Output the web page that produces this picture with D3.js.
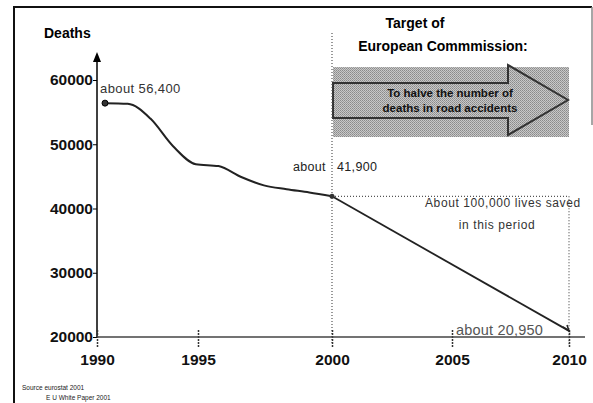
<!DOCTYPE html>
<html>
<head>
<meta charset="utf-8">
<script src="https://cdn.jsdelivr.net/npm/d3@7"></script>
<style>
  body { margin: 0; background: #fff; }
  #chart { width: 593px; height: 403px; }
  text { font-family: Arial, "Liberation Sans", sans-serif; }
</style>
</head>
<body>
<div id="chart"></div>
<script>
// values
const years = [1990, 1991, 1992, 1993, 1994, 1995, 1996, 1997, 1998, 1999, 2000];
const deaths = [56400, 56300, 54000, 49700, 46900, 46600, 44900, 43600, 43000, 42500, 41900];
const targetYears = [2000, 2010];
const targetDeaths = [41900, 20950];
const yTicks = [20000, 30000, 40000, 50000, 60000];
const xTicks = [1990, 1995, 2000, 2005, 2010];

const width = 593;
const height = 403;

const svg = d3.select("#chart").append("svg")
  .attr("width", width)
  .attr("height", height);

const defs = svg.append("defs");

// dithered grey like the scanned original
const pat = defs.append("pattern")
  .attr("id", "stipple")
  .attr("width", 2)
  .attr("height", 2)
  .attr("patternUnits", "userSpaceOnUse");
pat.append("rect").attr("width", 2).attr("height", 2).attr("fill", "#c8c8c8");
pat.append("rect").attr("x", 0).attr("y", 0).attr("width", 1).attr("height", 1).attr("fill", "#8a8a8a");
pat.append("rect").attr("x", 1).attr("y", 1).attr("width", 1).attr("height", 1).attr("fill", "#9a9a9a");

// frame
svg.append("path")
  .attr("d", "M14,403 L14,7 L592,7")
  .attr("fill", "none")
  .attr("stroke", "#111")
  .attr("stroke-width", 2);
svg.append("line")
  .attr("x1", 592).attr("x2", 592).attr("y1", 7).attr("y2", 125)
  .attr("stroke", "#888").attr("stroke-width", 1.5);

// scales
const y = d3.scaleLinear().domain([20000, 60000]).range([337, 80]);
const xTick = d3.scaleLinear().domain(xTicks).range([97, 198, 332, 452, 569]);
const xData = d3.scaleLinear().domain([1990, 2000, 2010]).range([105, 332, 569]);

const x0 = xTick(1990);
const y0 = y(20000);

// target box + arrow
const bx0 = xTick(2000), bx1 = xData(2010);
svg.append("rect")
  .attr("x", bx0 + 1)
  .attr("y", 67)
  .attr("width", bx1 - bx0 - 1)
  .attr("height", 70)
  .attr("fill", "url(#stipple)");

const arrow = d3.path();
arrow.moveTo(bx0 + 1, 83);
arrow.lineTo(508, 83);
arrow.lineTo(508, 65);
arrow.lineTo(bx1 - 1, 100);
arrow.lineTo(508, 135);
arrow.lineTo(508, 118);
arrow.lineTo(bx0 + 1, 118);
arrow.closePath();
svg.append("path")
  .attr("d", arrow.toString())
  .attr("fill", "url(#stipple)")
  .attr("stroke", "#333")
  .attr("stroke-width", 2)
  .attr("stroke-linejoin", "miter");

svg.append("text")
  .attr("x", 450).attr("y", 97)
  .attr("text-anchor", "middle")
  .attr("font-size", 11.5).attr("font-weight", "bold").attr("fill", "#111")
  .text("To halve the number of");
svg.append("text")
  .attr("x", 450).attr("y", 112)
  .attr("text-anchor", "middle")
  .attr("font-size", 11.5).attr("font-weight", "bold").attr("fill", "#111")
  .text("deaths in road accidents");

// titles
svg.append("text")
  .attr("x", 415).attr("y", 28)
  .attr("text-anchor", "middle")
  .attr("font-size", 14).attr("font-weight", "bold")
  .text("Target of");
svg.append("text")
  .attr("x", 443).attr("y", 51)
  .attr("text-anchor", "middle")
  .attr("font-size", 14).attr("font-weight", "bold")
  .text("European Commmission:");

svg.append("text")
  .attr("x", 44).attr("y", 38)
  .attr("font-size", 14).attr("font-weight", "bold")
  .text("Deaths");

// dotted guides
function guide(x1, y1, x2, y2) {
  return svg.append("line")
    .attr("x1", x1).attr("y1", y1).attr("x2", x2).attr("y2", y2)
    .attr("stroke", "#555")
    .attr("stroke-width", 1.2)
    .attr("stroke-dasharray", "1,2");
}
guide(xTick(2000), 33, xTick(2000), y0 + 8);
guide(xData(2000), y(41900), xData(2010), y(41900));
guide(xData(2010), y(41900), xData(2010), y0 + 8);

// y axis
const yAxis = svg.append("g")
  .attr("transform", `translate(${x0},0)`)
  .call(d3.axisLeft(y).tickValues(yTicks).tickSize(4).tickFormat(d3.format("d")));
yAxis.select(".domain").remove();
yAxis.selectAll(".tick line").attr("stroke", "#000");
yAxis.selectAll(".tick text")
  .attr("x", -4)
  .attr("font-family", "Arial, 'Liberation Sans', sans-serif")
  .attr("font-size", 15.5)
  .attr("font-weight", "bold")
  .attr("fill", "#111");
svg.append("line")
  .attr("x1", x0).attr("x2", x0)
  .attr("y1", y0).attr("y2", 60)
  .attr("stroke", "#000").attr("stroke-width", 1.5);
svg.append("path")
  .attr("d", `M${x0 - 4},${62} L${x0},${52} L${x0 + 4},${62} Z`)
  .attr("fill", "#000");

// x axis
const xAxis = svg.append("g")
  .attr("transform", `translate(0,${y0})`)
  .call(d3.axisBottom(xTick).tickValues(xTicks).tickSize(0).tickFormat(d3.format("d")));
xAxis.select(".domain").remove();
xAxis.selectAll(".tick line")
  .attr("y1", -7).attr("y2", 10)
  .attr("stroke", "#333").attr("stroke-width", 1.5)
  .attr("stroke-dasharray", "2,1");
xAxis.selectAll(".tick text")
  .attr("y", 17)
  .attr("font-family", "Arial, 'Liberation Sans', sans-serif")
  .attr("font-size", 15.5)
  .attr("font-weight", "bold")
  .attr("fill", "#111");
svg.append("line")
  .attr("x1", x0).attr("x2", 585)
  .attr("y1", y0).attr("y2", y0)
  .attr("stroke", "#444").attr("stroke-width", 1.6);

// history line
const line = d3.line()
  .x((d, i) => xData(years[i]))
  .y(d => y(d))
  .curve(d3.curveMonotoneX);
svg.append("path")
  .datum(deaths)
  .attr("d", line)
  .attr("fill", "none")
  .attr("stroke", "#222")
  .attr("stroke-width", 2);

// projection to 2010
const target = d3.line()
  .x((d, i) => xData(targetYears[i]))
  .y(d => y(d));
svg.append("path")
  .datum(targetDeaths)
  .attr("d", target)
  .attr("fill", "none")
  .attr("stroke", "#222")
  .attr("stroke-width", 1.8);

// markers
svg.append("circle")
  .attr("cx", xData(years[0])).attr("cy", y(deaths[0]))
  .attr("r", 3)
  .attr("fill", "#333").attr("stroke", "#000").attr("stroke-width", 1);
svg.append("circle")
  .attr("cx", xData(2000)).attr("cy", y(41900))
  .attr("r", 2.5)
  .attr("fill", "#333");
const endX = xData(2010), endY = y(20950);
svg.append("path")
  .attr("d", `M${endX - 6},${endY - 4} L${endX},${endY} L${endX - 2},${endY - 6}`)
  .attr("fill", "none").attr("stroke", "#222").attr("stroke-width", 1.5);

// value labels
svg.append("text")
  .attr("x", xData(1990) - 5).attr("y", y(56400) - 10)
  .attr("font-size", 13).attr("fill", "#333").attr("letter-spacing", 0.4)
  .text("about 56,400");
svg.append("text")
  .attr("x", xData(2000) - 39).attr("y", y(41900) - 25)
  .attr("font-size", 12.5).attr("fill", "#222").attr("letter-spacing", 0.3)
  .attr("xml:space", "preserve")
  .text("about   41,900");
svg.append("text")
  .attr("x", 456).attr("y", y(20950) + 4)
  .attr("font-size", 14.5).attr("fill", "#555").attr("letter-spacing", 0.2)
  .text("about 20,950");

svg.append("text")
  .attr("x", 425).attr("y", 207)
  .attr("font-size", 12).attr("fill", "#333").attr("letter-spacing", 0.6)
  .text("About 100,000 lives saved");
svg.append("text")
  .attr("x", 497).attr("y", 229)
  .attr("text-anchor", "middle")
  .attr("font-size", 12).attr("fill", "#333").attr("letter-spacing", 0.6)
  .text("in this period");

// source
svg.append("text")
  .attr("x", 22).attr("y", 390)
  .attr("font-size", 6.5).attr("fill", "#222")
  .text("Source eurostat  2001");
svg.append("text")
  .attr("x", 46).attr("y", 400)
  .attr("font-size", 6.5).attr("fill", "#222")
  .text("E U White Paper 2001");
</script>
</body>
</html>
